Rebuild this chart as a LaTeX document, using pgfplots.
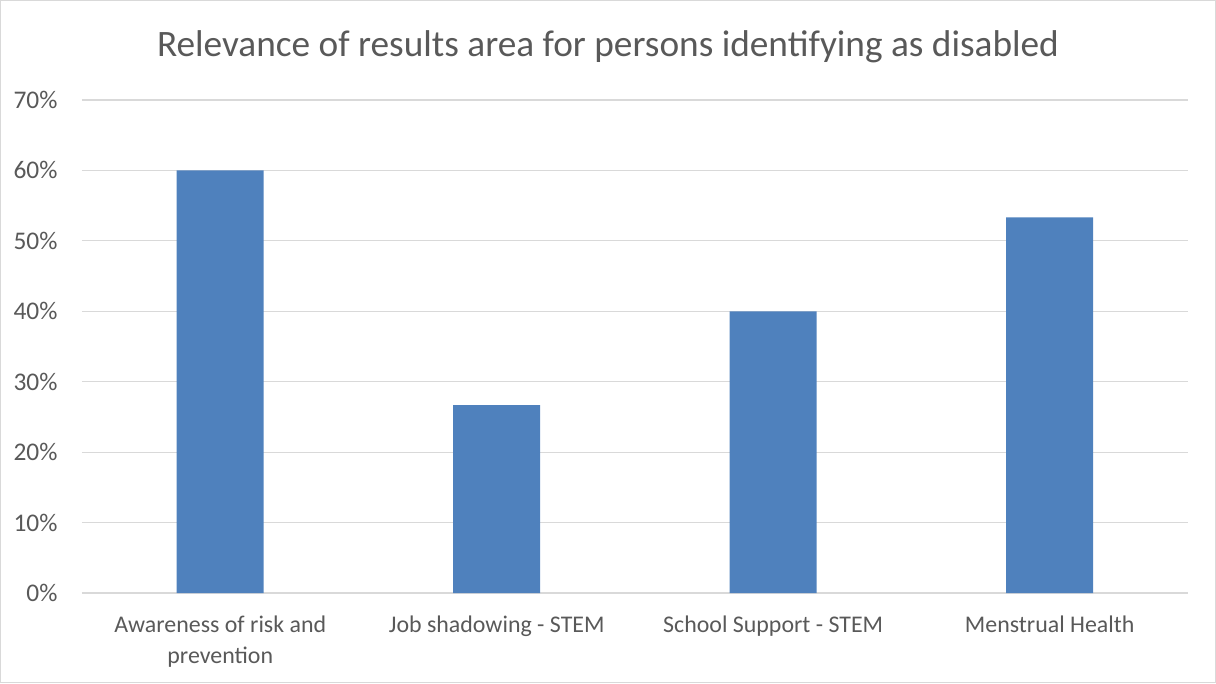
\documentclass[border=0pt]{standalone}
\usepackage{pgfplots}
\pgfplotsset{compat=1.18}
\usepackage{fontspec}
\setmainfont{Carlito}
\definecolor{barblue}{HTML}{4F81BD}
\definecolor{txtgray}{HTML}{595959}
\definecolor{gridgray}{HTML}{D9D9D9}
\begin{document}
\begin{tikzpicture}[x=1pt,y=1pt]
\useasboundingbox (-82,-90) rectangle (1134,593);
\draw[gridgray, line width=1.2pt] (-81.4,-89.4) rectangle (1133.4,592.4);
\begin{axis}[
  at={(0,0)}, anchor=south west,
  scale only axis, width=1106pt, height=493pt,
  xmin=-0.5, xmax=3.5, ymin=0, ymax=70,
  ytick={0,10,...,70},
  yticklabel={\pgfmathprintnumber{\tick}\%},
  /pgf/number format/assume math mode=true,
  xtick=data,
  xticklabels={{Awareness of risk and\\prevention},{Job shadowing - STEM},{School Support - STEM},{Menstrual Health}},
  xticklabel style={align=center, font=\fontsize{23.9}{31}\selectfont, text=txtgray, yshift=-19pt},
  yticklabel style={font=\fontsize{25.4}{30}\selectfont, text=txtgray, xshift=-21pt},
  axis line style={draw=none},
  axis x line*=bottom,
  x axis line style={draw=gridgray, line width=1.2pt},
  ymajorgrids, grid style={gridgray, line width=1.2pt},
  major tick length=0pt,
  ybar, bar width=87pt,
  title={Relevance of results area for persons identifying as disabled},
  title style={font=\fontsize{37.3}{42}\selectfont, text=txtgray, yshift=28pt, xshift=-27pt},
]
\addplot[fill=barblue, draw=none] coordinates {(0,60) (1,26.67) (2,40) (3,53.33)};
\end{axis}
\end{tikzpicture}
\end{document}
